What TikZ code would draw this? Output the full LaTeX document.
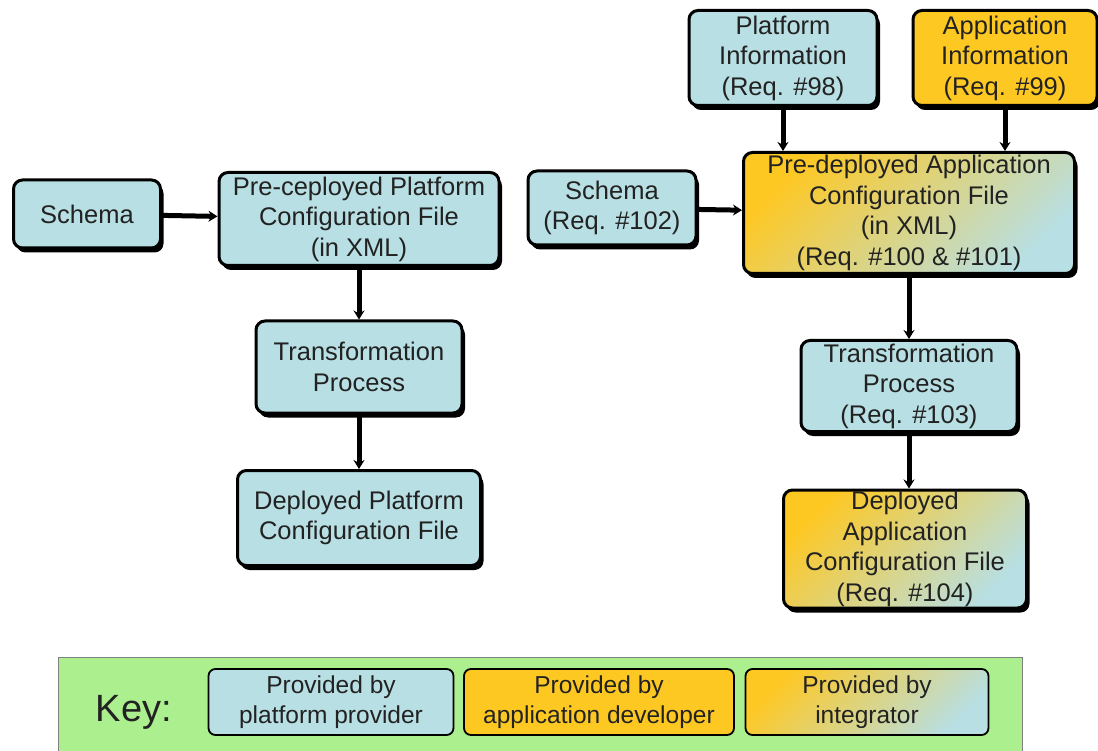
\documentclass[tikz,border=0pt]{standalone}
\usepackage{fontspec}
\setmainfont{Liberation Sans}
\usetikzlibrary{arrows.meta,shadows}
\definecolor{platblue}{HTML}{B8DFE3}
\definecolor{appyellow}{HTML}{FEC823}
\definecolor{blend}{HTML}{E2D290}
\definecolor{keygreen}{HTML}{ABEF8E}
\definecolor{txt}{HTML}{222222}
\begin{document}
\begin{tikzpicture}[x=1pt,y=-1pt,
  box/.style={draw=black, line width=3pt, rounded corners=9pt, inner sep=0pt,
    align=center, text=txt, font=\fontsize{25.5}{30.5}\selectfont,
    drop shadow={fill=black, opacity=1, shadow xshift=3pt, shadow yshift=-4.5pt}},
  plat/.style={box, fill=platblue},
  app/.style={box, fill=appyellow},
  integ/.style={box, top color=appyellow, middle color=blend, bottom color=platblue, shading angle=45},
  keybox/.style={draw=black, line width=1.8pt, rounded corners=7pt, inner sep=0pt,
    align=center, text=txt, font=\fontsize{24.5}{30}\selectfont},
  flow/.style={draw=black, line width=5pt, -{Stealth[length=9pt,width=11pt]}}]
\useasboundingbox (0,0) rectangle (1098,751);
\fill[white] (0,0) rectangle (1098,751);

% platform chain
\node[plat, minimum width=147pt, minimum height=68pt] (schemaL) at (87,214) {Schema};
\node[plat, minimum width=280pt, minimum height=93pt] (preL) at (359,219) {Pre-ceployed Platform\\Configuration File\\(in XML)};
\node[plat, minimum width=206pt, minimum height=92pt] (transL) at (359,367) {Transformation\\Process};
\node[plat, minimum width=243pt, minimum height=95pt] (depL) at (359,518) {Deployed Platform\\Configuration File};

% application chain
\node[plat, minimum width=168pt, minimum height=74pt] (schemaR) at (612,208) {Schema\\(Req. \#102)};
\node[plat, minimum width=188pt, minimum height=95pt] (platInfo) at (783,58) {Platform\\Information\\(Req. \#98)};
\node[app, minimum width=184pt, minimum height=95pt] (appInfo) at (1005,58) {Application\\Information\\(Req. \#99)};
\node[integ, minimum width=331pt, minimum height=121pt] (preR) at (909,213) {Pre-deployed Application\\Configuration File\\(in XML)\\(Req. \#100 \& \#101)};
\node[plat, minimum width=216pt, minimum height=91pt] (transR) at (909,386) {Transformation\\Process\\(Req. \#103)};
\node[integ, minimum width=243pt, minimum height=118pt] (depR) at (905,549) {Deployed\\Application\\Configuration File\\(Req. \#104)};

% connectors
\draw[flow] (schemaL) -- (preL);
\draw[flow] (preL) -- (transL);
\draw[flow] (transL) -- (depL);
\draw[flow] (schemaR) -- (preR);
\draw[flow] (platInfo) -- (platInfo |- preR.north);
\draw[flow] (appInfo) -- (appInfo |- preR.north);
\draw[flow] (preR) -- (preR |- transR.north);
\draw[flow] (transR) -- (transR |- depR.north);

% key
\node[draw=gray, line width=0.8pt, fill=keygreen, minimum width=964pt, minimum height=96pt, inner sep=0pt] (key) at (540,705) {};
\node[text=txt, font=\fontsize{38}{42}\selectfont] (keyLabel) at (134,712) {Key:};
\node[keybox, fill=platblue, minimum width=245pt, minimum height=66pt] (k1) at (331,702) {Provided by\\platform provider};
\node[keybox, fill=appyellow, minimum width=270pt, minimum height=66pt] (k2) at (599,702) {Provided by\\application developer};
\node[keybox, top color=appyellow, middle color=blend, bottom color=platblue, shading angle=45, minimum width=243pt, minimum height=66pt] (k3) at (867,702) {Provided by\\integrator};
\end{tikzpicture}
\end{document}
